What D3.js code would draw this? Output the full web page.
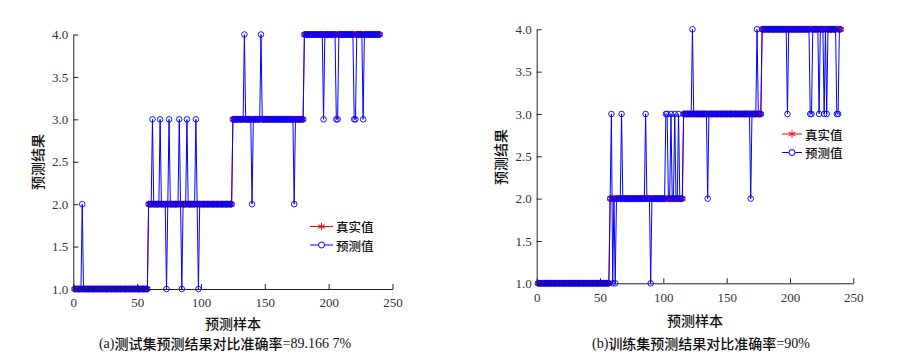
<!DOCTYPE html>
<html>
<head>
<meta charset="utf-8">
<script src="https://cdn.jsdelivr.net/npm/d3@7"></script>
<style>
  body { margin: 0; background: #fff; }
  svg { display: block; }
</style>
</head>
<body>
<div id="chart"></div>
<script>
// true class runs: [class, number of samples]
var testTrueRuns = [[1, 58], [2, 66], [3, 56], [4, 60]];
var trainTrueRuns = [[1, 57], [2, 58], [3, 62], [4, 63]];

// misclassified samples: [sample index, predicted class]
var testWrong = [[7, 2], [62, 3], [68, 3], [73, 1], [75, 3], [83, 3], [85, 1], [89, 3],
  [96, 3], [98, 1], [134, 4], [140, 2], [147, 4], [173, 2], [196, 3], [206, 3], [207, 3],
  [220, 3], [221, 3], [227, 3]];
var trainWrong = [[59, 3], [60, 1], [62, 1], [67, 3], [86, 3], [90, 1], [102, 3], [103, 3],
  [106, 3], [109, 3], [112, 3], [123, 4], [135, 2], [169, 2], [174, 4], [198, 3], [216, 3],
  [217, 3], [223, 3], [227, 3], [229, 3], [237, 3], [238, 3]];

var xTicks = [0, 50, 100, 150, 200, 250];
var yTicks = [1.0, 1.5, 2.0, 2.5, 3.0, 3.5, 4.0];
var legendNames = ["真实值", "预测值"];

var width = 921,
    height = 364;

var svg = d3.select("#chart").append("svg")
    .attr("width", width)
    .attr("height", height);

svg.append("rect").attr("width", width).attr("height", height).attr("fill", "#fff");

var serif = "'Liberation Serif', 'Times New Roman', serif";
var cjk = "'Noto Sans CJK SC', sans-serif";

function buildSeries(runs, wrong) {
  var t = [];
  runs.forEach(function(r) {
    for (var k = 0; k < r[1]; k++) t.push(r[0]);
  });
  var p = t.slice();
  wrong.forEach(function(w) { p[w[0] - 1] = w[1]; });
  return {
    truth: t.map(function(v, i) { return { i: i + 1, v: v }; }),
    pred: p.map(function(v, i) { return { i: i + 1, v: v }; })
  };
}

function drawPanel(cfg) {
  var s = buildSeries(cfg.runs, cfg.wrong);
  var x = d3.scaleLinear().domain([0, 250]).range([cfg.left, cfg.right]);
  var y = d3.scaleLinear().domain([1, 4]).range([cfg.bottom, cfg.top]);
  var g = svg.append("g");

  var line = d3.line()
      .x(function(d) { return x(d.i); })
      .y(function(d) { return y(d.v); });

  // true values
  g.append("path")
      .datum(s.truth)
      .attr("d", line)
      .attr("fill", "none")
      .attr("stroke", "#ff0000")
      .attr("stroke-width", 1);

  var star = d3.symbol().type(d3.symbolAsterisk).size(34);
  g.selectAll(".star")
      .data(s.truth)
      .enter().append("path")
      .attr("class", "star")
      .attr("d", star)
      .attr("transform", function(d) { return "translate(" + x(d.i) + "," + y(d.v) + ")"; })
      .attr("fill", "none")
      .attr("stroke", "#ff0000")
      .attr("stroke-width", 0.9);

  // predicted values
  g.append("path")
      .datum(s.pred)
      .attr("d", line)
      .attr("fill", "none")
      .attr("stroke", "#0000ff")
      .attr("stroke-width", 1);

  g.selectAll(".dot")
      .data(s.pred)
      .enter().append("circle")
      .attr("class", "dot")
      .attr("cx", function(d) { return x(d.i); })
      .attr("cy", function(d) { return y(d.v); })
      .attr("r", 2.8)
      .attr("fill", "none")
      .attr("stroke", "#0000ff")
      .attr("stroke-width", 0.9);

  // axes, ticks pointing inward
  var xAxis = d3.axisBottom(x).tickValues(xTicks).tickSizeInner(-5).tickSizeOuter(0)
      .tickPadding(9).tickFormat(d3.format("d"));
  var yAxis = d3.axisLeft(y).tickValues(yTicks).tickSizeInner(-5).tickSizeOuter(0)
      .tickPadding(5).tickFormat(d3.format(".1f"));

  var gx = g.append("g").attr("transform", "translate(0," + cfg.bottom + ")").call(xAxis);
  var gy = g.append("g").attr("transform", "translate(" + cfg.left + ",0)").call(yAxis);
  [gx, gy].forEach(function(a) {
    a.select(".domain").attr("stroke", "#222");
    a.selectAll(".tick line").attr("stroke", "#222");
    a.selectAll(".tick text")
        .attr("fill", "#333")
        .style("font-family", serif)
        .style("font-size", "13px");
  });

  // axis titles
  g.append("text")
      .attr("transform", "translate(" + cfg.yLabelX + "," + cfg.yLabelY + ") rotate(-90)")
      .attr("text-anchor", "middle")
      .attr("dominant-baseline", "central")
      .style("font-family", cjk)
      .style("font-size", "14px")
      .style("font-weight", 500)
      .attr("fill", "#111")
      .text("预测结果");

  g.append("text")
      .attr("x", (cfg.left + cfg.right) / 2)
      .attr("y", cfg.xLabelY)
      .attr("text-anchor", "middle")
      .attr("dominant-baseline", "central")
      .style("font-family", cjk)
      .style("font-size", "14px")
      .style("font-weight", 500)
      .attr("fill", "#111")
      .text("预测样本");

  // caption
  var cap = g.append("text")
      .attr("x", cfg.capX)
      .attr("y", cfg.capY)
      .attr("text-anchor", "middle")
      .attr("dominant-baseline", "central")
      .attr("fill", "#111")
      .style("font-size", "14px");
  cap.append("tspan").style("font-family", serif).text(cfg.capTag);
  cap.append("tspan").style("font-family", cjk).style("font-weight", 500).text(cfg.capText);
  cap.append("tspan").style("font-family", serif).text(cfg.capValue);

  // legend
  var lg = g.append("g");
  var colors = ["#ff0000", "#0000ff"];
  legendNames.forEach(function(name, k) {
    var ly = cfg.legY + k * cfg.legGap;
    lg.append("line")
        .attr("x1", cfg.legX1).attr("x2", cfg.legX2)
        .attr("y1", ly).attr("y2", ly)
        .attr("stroke", colors[k]).attr("stroke-width", 1);
    var mx = (cfg.legX1 + cfg.legX2) / 2;
    if (k === 0) {
      lg.append("path")
          .attr("d", d3.symbol().type(d3.symbolAsterisk).size(40)())
          .attr("transform", "translate(" + mx + "," + ly + ")")
          .attr("fill", "none").attr("stroke", colors[k]).attr("stroke-width", 1);
    } else {
      lg.append("circle")
          .attr("cx", mx).attr("cy", ly).attr("r", 3)
          .attr("fill", "#fff").attr("stroke", colors[k]).attr("stroke-width", 1);
    }
    lg.append("text")
        .attr("x", cfg.legX2 + 3)
        .attr("y", ly)
        .attr("dominant-baseline", "central")
        .style("font-family", cjk)
        .style("font-size", "12.5px")
        .style("font-weight", 500)
        .attr("fill", "#111")
        .text(name);
  });
}

drawPanel({
  runs: testTrueRuns, wrong: testWrong,
  left: 73.3, right: 392.5, top: 34.5, bottom: 289,
  yLabelX: 37, yLabelY: 162, xLabelY: 323,
  capX: 225, capY: 342.5, capTag: "(a)", capText: "测试集预测结果对比准确率", capValue: "=89.166 7%",
  legX1: 310, legX2: 333, legY: 226.5, legGap: 18.5
});

drawPanel({
  runs: trainTrueRuns, wrong: trainWrong,
  left: 536.7, right: 853.3, top: 29.3, bottom: 283.3,
  yLabelX: 500, yLabelY: 157, xLabelY: 320,
  capX: 701, capY: 343, capTag: "(b)", capText: "训练集预测结果对比准确率", capValue: "=90%",
  legX1: 782, legX2: 802, legY: 134, legGap: 18.5
});
</script>
</body>
</html>
